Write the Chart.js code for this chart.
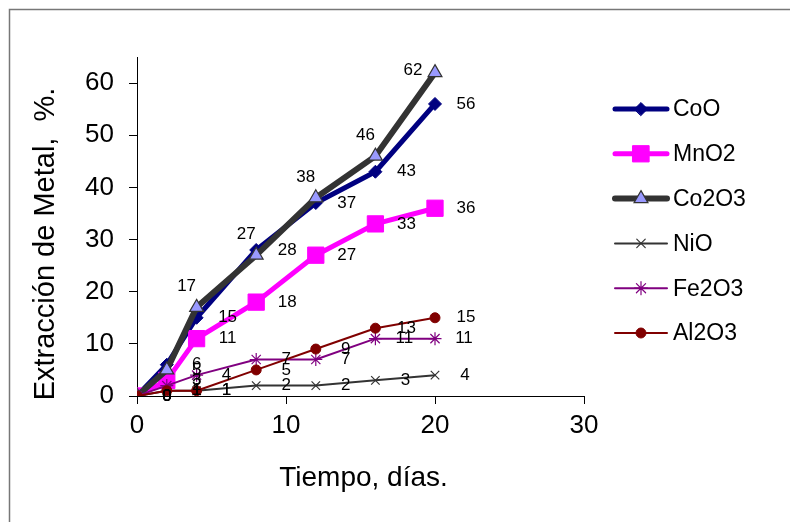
<!DOCTYPE html>
<html>
<head>
<meta charset="utf-8">
<script src="https://cdn.jsdelivr.net/npm/chart.js@4/dist/chart.umd.min.js"></script>
<style>
	body { margin: 0; background: #fff; }
	canvas { display: block; }
</style>
</head>
<body>
<canvas id="grafico" width="790" height="522"></canvas>
<script>
var FUENTE = 'Arial, "Liberation Sans", sans-serif';

// tiempo de lixiviación (días) y % de metal extraído por óxido
var dias = [0, 2, 4, 8, 12, 16, 20];
var coO = [0, 6, 15, 28, 37, 43, 56];
var mnO2 = [0, 3, 11, 18, 27, 33, 36];
var co2O3 = [0, 5, 17, 27, 38, 46, 62];
var niO = [0, 1, 1, 2, 2, 3, 4];
var fe2O3 = [0, 2, 4, 7, 7, 11, 11];
var al2O3 = [0, 1, 1, 5, 9, 13, 15];

var ticksX = [0, 10, 20, 30];
var ticksY = [0, 10, 20, 30, 40, 50, 60];

function puntos(valores) {
	return dias.map(function(d, i) {
		return { x : d, y : valores[i] };
	});
}

function serie(nombre, valores, estilo) {
	var ds = {
		label : nombre,
		data : puntos(valores),
		borderColor : estilo.color,
		borderWidth : estilo.grosor,
		pointStyle : estilo.marca,
		pointRadius : estilo.radio,
		pointHoverRadius : estilo.radio,
		pointBackgroundColor : estilo.relleno || estilo.color,
		pointBorderColor : estilo.borde || estilo.color,
		pointBorderWidth : estilo.bordeMarca || 1,
		borderCapStyle : 'round',
		borderJoinStyle : 'round',
		tension : 0,
		fill : false,
		order : estilo.orden
	};
	return ds;
}

// desplazamiento de cada etiqueta de valor respecto a su punto
var DERECHA = { dx : 30, dy : 0 };
var posEtiqueta = {
	'CoO' : { dx : 31, dy : 0 },
	'MnO2' : { dx : 31, dy : 0 },
	'Co2O3' : { dx : -10, dy : -21 },
	'NiO' : { dx : 29, dy : 0 },
	'Fe2O3' : { dx : 29, dy : 0 },
	'Al2O3' : { dx : 31, dy : 0 }
};

var marco = {
	id : 'marco',
	beforeDraw : function(chart) {
		var ctx = chart.ctx;
		ctx.save();
		ctx.strokeStyle = '#777';
		ctx.lineWidth = 1.5;
		ctx.beginPath();
		ctx.moveTo(9.5, chart.height);
		ctx.lineTo(9.5, 9.5);
		ctx.lineTo(chart.width, 9.5);
		ctx.stroke();
		ctx.restore();
	}
};

var etiquetas = {
	id : 'etiquetas',
	afterDatasetsDraw : function(chart) {
		var ctx = chart.ctx;
		var area = chart.chartArea;
		ctx.save();
		ctx.font = '17px ' + FUENTE;
		ctx.fillStyle = '#000';
		ctx.textAlign = 'center';
		ctx.textBaseline = 'middle';
		chart.data.datasets.forEach(function(ds, i) {
			var meta = chart.getDatasetMeta(i);
			meta.data.forEach(function(pt, j) {
				var valor = ds.data[j].y;
				// los valores pequeños quedan siempre a la derecha del punto
				var pos = valor < 10 ? DERECHA : posEtiqueta[ds.label];
				var dx = pos.dx, dy = pos.dy;
				// si se sale por arriba, se pone a la izquierda del punto
				if (pt.y + dy < area.top + 8) {
					dx = -22;
					dy = -2;
				}
				ctx.fillText(String(valor), pt.x + dx, pt.y + dy);
			});
		});
		ctx.restore();
	}
};

var titulos = {
	id : 'titulos',
	afterDraw : function(chart) {
		var ctx = chart.ctx;
		var area = chart.chartArea;
		ctx.save();
		ctx.fillStyle = '#000';
		ctx.font = '28px ' + FUENTE;
		ctx.textAlign = 'center';
		ctx.textBaseline = 'middle';
		ctx.fillText('Tiempo, días.', (area.left + area.right) / 2 + 3, 478);
		ctx.font = '29px ' + FUENTE;
		ctx.translate(46, 244);
		ctx.rotate(-Math.PI / 2);
		ctx.fillText('Extracción de Metal,  %.', 0, 0);
		ctx.restore();
	}
};

var leyenda = {
	id : 'leyenda',
	afterDraw : function(chart) {
		var ctx = chart.ctx;
		chart.data.datasets.forEach(function(ds, i) {
			var y = 109 + i * 44.8;
			ctx.save();
			ctx.strokeStyle = ds.borderColor;
			ctx.lineWidth = ds.borderWidth;
			ctx.lineCap = 'round';
			ctx.beginPath();
			ctx.moveTo(615, y);
			ctx.lineTo(667, y);
			ctx.stroke();
			ctx.fillStyle = ds.pointBackgroundColor;
			ctx.strokeStyle = ds.pointBorderColor;
			ctx.lineWidth = ds.pointBorderWidth;
			Chart.helpers.drawPoint(ctx, {
				pointStyle : ds.pointStyle,
				radius : ds.pointRadius,
				borderWidth : ds.pointBorderWidth,
				rotation : 0
			}, 641, y);
			ctx.fillStyle = '#000';
			ctx.font = '23px ' + FUENTE;
			ctx.textAlign = 'left';
			ctx.textBaseline = 'middle';
			ctx.fillText(ds.label, 673, y + 1);
			ctx.restore();
		});
	}
};

function fijarTicks(valores) {
	return function(scale) {
		scale.ticks = valores.map(function(v) {
			return { value : v };
		});
	};
}

var datasets = [
	serie('CoO', coO, { color : '#000080', grosor : 5, marca : 'rectRot', radio : 6.5, orden : 6 }),
	serie('MnO2', mnO2, { color : '#FF00FF', grosor : 5, marca : 'rect', radio : 11.5, orden : 5 }),
	serie('Co2O3', co2O3, { color : '#333333', grosor : 6, marca : 'triangle', radio : 8,
		relleno : '#9999FF', borde : '#333333', bordeMarca : 1.2, orden : 4 }),
	serie('NiO', niO, { color : '#333333', grosor : 2, marca : 'crossRot', radio : 6, bordeMarca : 1.2, orden : 3 }),
	serie('Fe2O3', fe2O3, { color : '#800080', grosor : 2, marca : 'star', radio : 6.5, bordeMarca : 1.2, orden : 2 }),
	serie('Al2O3', al2O3, { color : '#800000', grosor : 2, marca : 'circle', radio : 5, orden : 1 })
];

var ejeComun = {
	type : 'linear',
	grid : {
		drawOnChartArea : false,
		drawTicks : true,
		tickLength : 8,
		color : '#000',
		lineWidth : 1
	},
	border : { display : true, color : '#000', width : 1 }
};

new Chart(document.getElementById('grafico'), {
	type : 'line',
	data : { datasets : datasets },
	options : {
		responsive : false,
		animation : false,
		devicePixelRatio : 1,
		events : [],
		layout : { padding : { top : 57, right : 206, left : 0, bottom : 0 } },
		plugins : {
			legend : { display : false },
			tooltip : { enabled : false }
		},
		scales : {
			x : Object.assign({}, ejeComun, {
				min : 0,
				max : 30,
				afterBuildTicks : fijarTicks(ticksX),
				afterFit : function(scale) { scale.height = 126; },
				ticks : { color : '#000', font : { size : 26, family : FUENTE }, padding : 6, maxRotation : 0 }
			}),
			y : Object.assign({}, ejeComun, {
				min : 0,
				max : 65,
				afterBuildTicks : fijarTicks(ticksY),
				afterFit : function(scale) { scale.width = 137; },
				ticks : { color : '#000', font : { size : 26, family : FUENTE }, padding : 15 }
			})
		}
	},
	plugins : [ marco, etiquetas, titulos, leyenda ]
});
</script>
</body>
</html>
